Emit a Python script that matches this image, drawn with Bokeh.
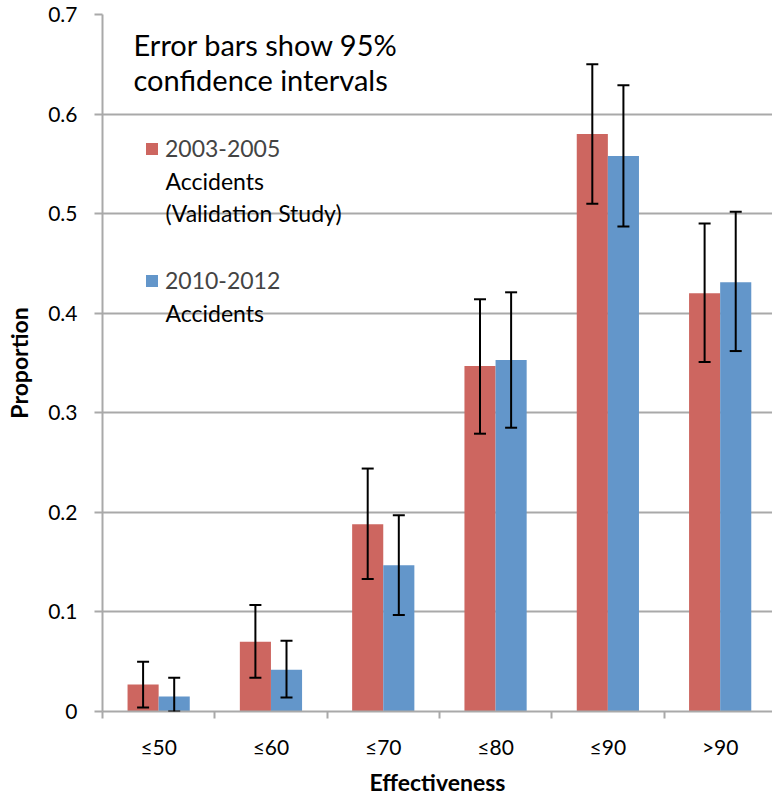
from bokeh.plotting import figure
from bokeh.models import (ColumnDataSource, Range1d, FixedTicker, Whisker, TeeHead,
                          Legend, LegendItem, Label)
from bokeh.embed import file_html
from bokeh.resources import INLINE

# ---- data ----
categories = ["≤50", "≤60", "≤70", "≤80", "≤90", ">90"]
series_a_lines = ["2003-2005", "Accidents", "(Validation Study)"]
series_b_lines = ["2010-2012", "Accidents"]
title_lines = ["Error bars show 95%", "confidence intervals"]
x_title = "Effectiveness"
y_title = "Proportion"
prop_0305 = [0.027, 0.070, 0.188, 0.347, 0.580, 0.420]
low_0305 = [0.004, 0.034, 0.133, 0.279, 0.510, 0.351]
high_0305 = [0.050, 0.107, 0.244, 0.414, 0.650, 0.490]
prop_1012 = [0.015, 0.042, 0.147, 0.353, 0.558, 0.431]
low_1012 = [0.000, 0.014, 0.097, 0.285, 0.487, 0.362]
high_1012 = [0.034, 0.071, 0.197, 0.421, 0.629, 0.502]
y_ticks = [0, 0.1, 0.2, 0.3, 0.4, 0.5, 0.6, 0.7]

RED = "#CD6660"
BLUE = "#6396CA"
GRID = "#A9A9A9"
FONT = "Lato"

FRAME_LEFT = 102    # screen x of the frame left
FRAME_BOTTOM = 712  # screen y of the frame bottom (for annotation placement)

bar_w = 0.277
centers = [i + 0.5 for i in range(len(categories))]

src_a = ColumnDataSource(dict(x=[c - bar_w / 2 for c in centers], top=prop_0305,
                              lower=low_0305, upper=high_0305))
src_b = ColumnDataSource(dict(x=[c + bar_w / 2 for c in centers], top=prop_1012,
                              lower=low_1012, upper=high_1012))

p = figure(width=772, height=798, output_backend="svg", toolbar_location=None,
           x_range=Range1d(0, 5.966), y_range=Range1d(0, 0.7),
           min_border_left=FRAME_LEFT, min_border_top=14,
           min_border_bottom=798 - FRAME_BOTTOM, min_border_right=0)
p.outline_line_color = None
p.background_fill_color = "white"

r_a = p.vbar(x="x", top="top", width=bar_w, source=src_a, fill_color=RED, line_color=None)
r_b = p.vbar(x="x", top="top", width=bar_w, source=src_b, fill_color=BLUE, line_color=None)

for src in (src_a, src_b):
    w = Whisker(base="x", lower="lower", upper="upper", source=src,
                line_color="black", line_width=2, level="overlay",
                upper_head=TeeHead(size=12, line_color="black", line_width=2),
                lower_head=TeeHead(size=12, line_color="black", line_width=2))
    p.add_layout(w)

# axes
p.xaxis.ticker = FixedTicker(ticks=centers, minor_ticks=list(range(len(categories) + 1)))
p.xaxis.major_label_overrides = {c: lab for c, lab in zip(centers, categories)}
p.xaxis.major_tick_line_color = None
p.xaxis.major_tick_out = 7
p.xaxis.major_tick_in = 0
p.xaxis.minor_tick_out = 7
p.xaxis.minor_tick_in = 0
p.xaxis.minor_tick_line_color = GRID
p.xaxis.minor_tick_line_width = 2
p.xaxis.axis_label = x_title

p.yaxis.ticker = FixedTicker(ticks=y_ticks)
p.yaxis.major_label_overrides = {0: "0"}
p.yaxis.major_tick_out = 8
p.yaxis.major_tick_in = 0
p.yaxis.major_tick_line_color = GRID
p.yaxis.major_tick_line_width = 2
p.yaxis.minor_tick_line_color = None
p.yaxis.axis_label = y_title

for ax in (p.xaxis[0], p.yaxis[0]):
    ax.axis_line_color = GRID
    ax.axis_line_width = 2
    ax.major_label_text_font = FONT
    ax.major_label_text_font_size = "21px"
    ax.major_label_text_color = "black"
    ax.axis_label_text_font = FONT
    ax.axis_label_text_font_style = "bold"
    ax.axis_label_text_font_size = "23px"
    ax.axis_label_text_color = "black"

p.xaxis.major_label_standoff = 15
p.xaxis.axis_label_standoff = 6
p.yaxis.major_label_standoff = 17
p.yaxis.axis_label_standoff = 12

p.xgrid.grid_line_color = None
p.ygrid.grid_line_color = GRID
p.ygrid.grid_line_width = 2


def add_text(txt, sx, sy, size):
    p.add_layout(Label(x=sx - FRAME_LEFT, y=FRAME_BOTTOM - sy, x_units="screen", y_units="screen",
                       text=txt, text_font=FONT, text_font_size=size, text_color="black",
                       text_baseline="middle", text_align="left"))


# annotation title
for i, line in enumerate(title_lines):
    add_text(line, 133, 45 + 35 * i, "29px")

# legend (one Legend per series so each square sits beside the first line)
for rend, lines, center in ((r_a, series_a_lines, 149), (r_b, series_b_lines, 281)):
    lg = Legend(items=[LegendItem(label=lines[0], renderers=[rend])],
                location=(42, FRAME_BOTTOM - center - 15), orientation="vertical",
                glyph_width=15, glyph_height=15, label_standoff=6, label_height=30,
                label_text_font=FONT, label_text_font_size="23px",
                label_text_baseline="middle",
                padding=0, margin=0, spacing=0,
                border_line_color=None, background_fill_alpha=0)
    p.add_layout(lg)
    for j, line in enumerate(lines[1:], start=1):
        add_text(line, 165, center + 32 * j, "23px")

open("out.html", "w").write(file_html(p, INLINE))
